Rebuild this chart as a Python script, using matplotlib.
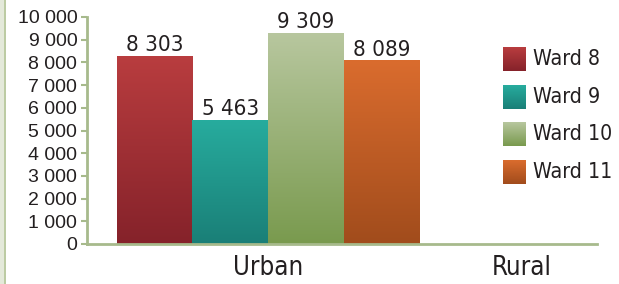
import matplotlib
matplotlib.use("Agg")
from matplotlib import pyplot as plt
from matplotlib import font_manager
from matplotlib.colors import LinearSegmentedColormap
from matplotlib.patches import Rectangle
import numpy as np

# Data
categories = ["Urban", "Rural"]
wards = ["Ward 8", "Ward 9", "Ward 10", "Ward 11"]
urban = [8303, 5463, 9309, 8089]
rural = [0, 0, 0, 0]
yticks = list(range(0, 10001, 1000))

# Gradient colours (top, bottom)
grads = [("#b93d3f", "#85222a"),
         ("#27ac9e", "#1a7f77"),
         ("#b8c79f", "#799a4e"),
         ("#da6c2e", "#a14c1c")]

axis_col = "#a7ba8c"
text_col = "#231f20"

# condensed font if one is around
names = {f.name for f in font_manager.fontManager.ttflist}
narrow_kw = dict(family="Liberation Sans Narrow") if "Liberation Sans Narrow" in names \
    else dict(family="DejaVu Sans", stretch="condensed")
reg_family = "Liberation Sans" if "Liberation Sans" in names else "DejaVu Sans"

fig = plt.figure(figsize=(6.19, 2.84), dpi=100)
ax = fig.add_axes([87 / 619, 1 - 244 / 284, (597 - 87) / 619, (244 - 17) / 284])

# left border strip
fig.patches.append(Rectangle((0, 0), 4 / 619, 1, transform=fig.transFigure,
                             facecolor="#e4e9da", edgecolor="none"))
fig.patches.append(Rectangle((4 / 619, 0), 1.5 / 619, 1, transform=fig.transFigure,
                             facecolor="#bccba3", edgecolor="none"))

x = np.arange(len(categories))
w = 0.298
grad = np.linspace(0, 1, 256).reshape(-1, 1)

for i, name in enumerate(wards):
    vals = [urban[i], rural[i]]
    bars = ax.bar(x + (i - 1.5) * w, vals, w, color="none", edgecolor="none")
    cmap = LinearSegmentedColormap.from_list(name, [grads[i][1], grads[i][0]])
    for b, v in zip(bars, vals):
        if v <= 0:
            continue
        x0, y0 = b.get_x(), b.get_y()
        im = ax.imshow(grad, cmap=cmap, aspect="auto", origin="lower",
                       extent=[x0, x0 + b.get_width(), y0, y0 + b.get_height()],
                       zorder=2)
        im.set_clip_path(b)
        ax.annotate(f"{v:,}".replace(",", " "), (x0 + b.get_width() / 2, v),
                    xytext=(0, 0.5), textcoords="offset points",
                    ha="center", va="bottom", fontsize=16,
                    color=text_col, **narrow_kw)

ax.set_xlim(-0.713, 1.295)
ax.set_ylim(0, 10000)
ax.set_yticks(yticks)
ax.set_yticklabels([f"{t:,}".replace(",", " ") for t in yticks],
                   family=reg_family, fontsize=14, color=text_col)
ax.set_xticks(x)
ax.set_xticklabels(categories, fontsize=18.5, color=text_col, **narrow_kw)

for s in ["top", "right"]:
    ax.spines[s].set_visible(False)
for s in ["left", "bottom"]:
    ax.spines[s].set_color(axis_col)
    ax.spines[s].set_linewidth(2)
ax.tick_params(axis="y", length=4, width=1.5, color=axis_col, pad=3)
ax.tick_params(axis="x", length=0, pad=8)

# legend with gradient swatches
for i, name in enumerate(wards):
    top = 47 + i * 37.7
    lax = fig.add_axes([503 / 619, 1 - (top + 24) / 284, 23 / 619, 24 / 284])
    cmap = LinearSegmentedColormap.from_list(name, [grads[i][1], grads[i][0]])
    lax.imshow(grad, cmap=cmap, aspect="auto", origin="lower")
    lax.set_axis_off()
    fig.text(533 / 619, 1 - (top + 12) / 284, name, ha="left", va="center",
             fontsize=15.3, color=text_col, **narrow_kw)

fig.savefig("out.png", dpi=100)
